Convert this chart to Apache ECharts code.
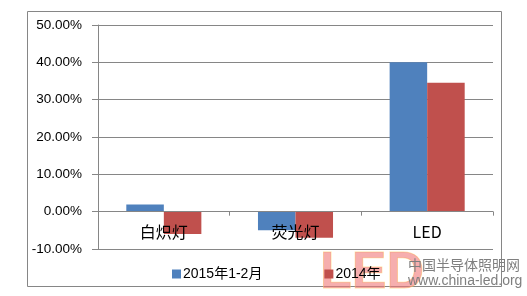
<!DOCTYPE html>
<html><head><meta charset="utf-8">
<script src="https://cdn.jsdelivr.net/npm/echarts@6/dist/echarts.min.js"></script>
<style>html,body{margin:0;padding:0;background:#fff}#c{width:527px;height:296px}</style>
</head><body><div id="c"></div>
<script>
const categories = ['白炽灯', '荧光灯', 'LED'];
const series2015 = [1.9, -5.0, 40.0];
const series2014 = [-6.0, -7.0, 34.5];
const seriesNames = ['2015年1-2月', '2014年'];
const yMin = -10, yMax = 50, yStep = 10;

const chart = echarts.init(document.getElementById('c'));
const numFont = '"Liberation Sans", Arial, "Noto Sans CJK SC", sans-serif';
chart.setOption({
  animation: false,
  backgroundColor: '#fff',
  grid: { left: 98, right: 34, top: 25, bottom: 47 },
  legend: {
    data: seriesNames,
    left: 167, top: 262,
    icon: 'rect', itemWidth: 9, itemHeight: 9, itemGap: 62,
    textStyle: { fontSize: 14, color: '#000', fontFamily: numFont, padding: [0,0,0,-3] }
  },
  xAxis: {
    type: 'category', data: categories, z: 10,
    axisLine: { onZero: true, lineStyle: { color: '#868686', width: 1 } },
    axisTick: { show: true, length: 4, lineStyle: { color: '#868686' } },
    axisLabel: { margin: -25, fontSize: 16, color: '#000', fontFamily: '"Noto Sans CJK SC", sans-serif' },
    splitLine: { show: false }
  },
  yAxis: {
    type: 'value', min: yMin, max: yMax, interval: yStep,
    axisLine: { show: true, lineStyle: { color: '#868686' } },
    axisTick: { show: true, length: 6, lineStyle: { color: '#868686' } },
    axisLabel: { margin: 16, fontSize: 13.5, color: '#000', fontFamily: numFont,
      formatter: v => v.toFixed(2) + '%' },
    splitLine: { show: true, lineStyle: { color: '#868686', width: 1 } }
  },
  series: [
    { name: seriesNames[0], type: 'bar', data: series2015, barGap: '0%', barCategoryGap: '43%',
      itemStyle: { color: '#4F81BD' } },
    { name: seriesNames[1], type: 'bar', data: series2014, barGap: '0%', barCategoryGap: '43%',
      itemStyle: { color: '#C0504D' } }
  ],
  graphic: [
    { type: 'rect', z: -1, shape: { x: 27.5, y: 11.5, width: 474, height: 275 },
      style: { fill: 'none', stroke: '#868686', lineWidth: 1 } },
    { type: 'text', z: 0, x: 320, y: 248,
      style: { text: 'LED', fontSize: 52, fontWeight: 'bold', fontFamily: '"Liberation Sans", Arial, sans-serif',
        textBaseline: 'top', textAlign: 'left',
        fill: 'rgba(240,120,120,0.6)', stroke: 'rgba(255,210,110,0.6)', lineWidth: 1 } },
    { type: 'text', z: 100, x: 408, y: 258,
      style: { text: '中国半导体照明网', fontSize: 14, fill: '#7f7f7f', textBaseline: 'top', fontFamily: '"Noto Sans CJK SC", sans-serif' } },
    { type: 'text', z: 100, x: 408, y: 274,
      style: { text: 'www.china-led.org', fontSize: 14, fill: '#7f7f7f', textBaseline: 'top', fontFamily: numFont } }
  ]
});
</script></body></html>
